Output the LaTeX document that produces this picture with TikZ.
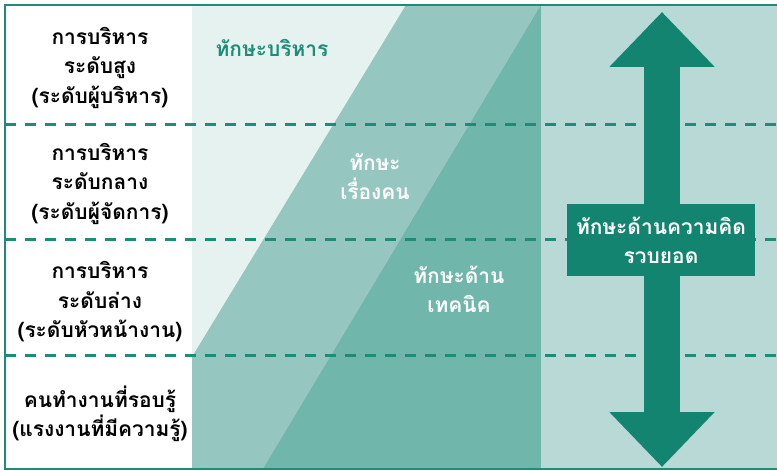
\documentclass[tikz,border=0pt]{standalone}
\usepackage{fontspec}
\newfontfamily\thaifont[Script=Thai]{Loma}
\usetikzlibrary{positioning,arrows.meta}

\definecolor{frame}{HTML}{1E8C78}
\definecolor{mint}{HTML}{E6F2EF}
\definecolor{people}{HTML}{95C7C0}
\definecolor{tech}{HTML}{71B6AB}
\definecolor{concept}{HTML}{B8D9D6}
\definecolor{deep}{HTML}{12846F}

\begin{document}
\begin{tikzpicture}[x=1bp,y=-1bp,
  level text/.style={font=\thaifont\bfseries\fontsize{21}{29.5}\selectfont,align=center,text=black},
  skill text/.style={font=\thaifont\bfseries\fontsize{21}{29}\selectfont,align=center,text=white},
  row line/.style={draw=frame,line width=3bp,dash pattern=on 11bp off 9bp},
  big arrow/.style={draw=deep,line width=36bp,
    {Triangle[length=55bp,width=102bp]}-{Triangle[length=55bp,width=102bp]}}]

  \useasboundingbox (0,0) rectangle (777,471);

  % background columns and bands
  \fill[white] (0,0) rectangle (777,471);
  \fill[mint] (192,5) rectangle (541,469);
  \fill[people] (406,5) -- (541,5) -- (541,469) -- (192,469) -- (192,357) -- cycle;
  \fill[tech] (541,5) -- (541,469) -- (263,469) -- cycle;
  \fill[concept] (541,5) rectangle (777,469);

  % level separators
  \foreach \y in {125,240,355}
    \draw[row line] (5,\y) -- (777,\y);

  \draw[frame,line width=2.5bp] (780,5) -- (5,5) -- (5,469) -- (780,469);

  % levels
  \node[level text] (top)    at (100,68)  {การบริหาร\\ระดับสูง\\(ระดับผู้บริหาร)};
  \node[level text] (middle) at (100,184) {การบริหาร\\ระดับกลาง\\(ระดับผู้จัดการ)};
  \node[level text] (lower)  at (100,302) {การบริหาร\\ระดับล่าง\\(ระดับหัวหน้างาน)};
  \node[level text] (worker) at (100,414) {คนทำงานที่รอบรู้\\(แรงงานที่มีความรู้)};

  % skills
  \node[skill text,text=frame] (manage) at (272,48)  {ทักษะบริหาร};
  \node[skill text] (human) at (375,177) {ทักษะ\\เรื่องคน};
  \node[skill text] (technical) at (459,289) {ทักษะด้าน\\เทคนิค};

  \coordinate (arrow top) at (662,12);
  \coordinate (arrow bottom) at (662,467);
  \draw[big arrow] (arrow top) -- (arrow bottom);

  \node[skill text,fill=deep,minimum width=188bp,minimum height=72bp,inner sep=0pt]
    (conceptual) at (661,240) {ทักษะด้านความคิด\\รวบยอด};
\end{tikzpicture}
\end{document}
